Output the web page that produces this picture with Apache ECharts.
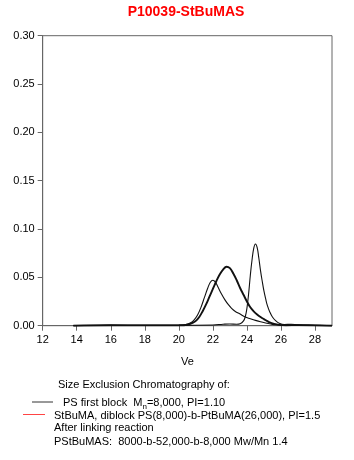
<!DOCTYPE html>
<html><head><meta charset="utf-8">
<script src="https://cdn.jsdelivr.net/npm/echarts@6/dist/echarts.min.js"></script>
<style>html,body{margin:0;padding:0;background:#fff}#c{width:354px;height:460px}</style>
</head><body><div id="c"></div>
<script>
var title = 'P10039-StBuMAS';
var xTicks = [12,14,16,18,20,22,24,26,28];
var yTicks = [0,0.05,0.10,0.15,0.20,0.25,0.30];

// PS first block (sharp peak ~24.5)
var psVe  = [13.8,16,18,20,22,22.6,23.0,23.4,23.6,23.8,23.9,24.0,24.1,24.2,24.3,24.4,24.5,24.6,24.7,24.8,24.9,25.0,25.1,25.2,25.35,25.5,25.7,25.9,26.2,26.6,27,28,29];
var psVal = [0,0.0005,0.0003,0.0003,0.0008,0.0015,0.0018,0.0015,0.002,0.005,0.009,0.018,0.033,0.052,0.068,0.080,0.0845,0.081,0.070,0.057,0.046,0.036,0.028,0.021,0.014,0.009,0.005,0.0025,0.0012,0.0015,0.001,0.0005,0];

// thin curve peak ~22.0
var thinVe  = [13.8,16,18,20,20.4,20.7,20.9,21.1,21.3,21.5,21.7,21.85,22.0,22.15,22.3,22.5,22.7,22.9,23.1,23.3,23.6,23.9,24.2,24.5,24.8,25.1,25.4,25.7,26,27,29];
var thinVal = [0,0.0003,0.0003,0.0005,0.0012,0.003,0.006,0.011,0.019,0.029,0.039,0.045,0.047,0.045,0.040,0.033,0.027,0.022,0.018,0.015,0.012,0.009,0.0072,0.0055,0.004,0.0028,0.0018,0.001,0.0006,0.0008,0];

// thick curve peak ~22.8
var thickVe  = [13.8,16,18,20,20.5,20.8,21.0,21.2,21.4,21.6,21.8,22.0,22.2,22.4,22.6,22.8,23.0,23.2,23.4,23.6,23.8,24.0,24.2,24.4,24.6,24.8,25.0,25.3,25.6,25.9,26.3,27,29];
var thickVal = [0,0.0004,0.0003,0.0004,0.001,0.003,0.005,0.009,0.015,0.022,0.030,0.038,0.046,0.053,0.058,0.061,0.0595,0.054,0.047,0.039,0.032,0.025,0.019,0.0148,0.0116,0.009,0.0068,0.0038,0.0018,0.0008,0.0005,0.0006,0];

function pairs(xs, ys){ return xs.map(function(x,i){ return [x, ys[i]]; }); }

var FONT = 'Liberation Sans, Arial, sans-serif';
var chart = echarts.init(document.getElementById('c'), null, {renderer:'canvas'});
chart.setOption({
  animation:false,
  backgroundColor:'#fff',
  title:{text:title, left:181, top:0, textAlign:'center',
    textStyle:{color:'#ff0000', fontSize:14, fontWeight:'bold', fontFamily:FONT}},
  grid:{left:42.7, right:22, top:35.7, bottom:134.3, show:true, borderColor:'#666', borderWidth:1},
  xAxis:{type:'value', min:12, max:29, name:'Ve', nameLocation:'middle', nameGap:31,
    nameTextStyle:{color:'#000', fontSize:11, fontFamily:FONT},
    axisLine:{lineStyle:{color:'#666'}},
    axisTick:{customValues:xTicks, length:5, lineStyle:{color:'#666'}},
    axisLabel:{customValues:xTicks, color:'#000', fontSize:11, fontFamily:FONT, margin:9},
    splitLine:{show:false}},
  yAxis:{type:'value', min:0, max:0.3, interval:0.05,
    axisLine:{show:true, lineStyle:{color:'#666'}},
    axisTick:{show:true, length:5, lineStyle:{color:'#666'}},
    axisLabel:{color:'#000', fontSize:11, fontFamily:FONT, margin:8,
      formatter:function(v){ return v.toFixed(2); }},
    splitLine:{show:false}},
  series:[
    {type:'line', data:pairs(psVe, psVal), smooth:0.4, showSymbol:false, lineStyle:{color:'#111', width:1.1}},
    {type:'line', data:pairs(thinVe, thinVal), smooth:0.4, showSymbol:false, lineStyle:{color:'#111', width:1.1}},
    {type:'line', data:pairs(thickVe, thickVal), smooth:0.4, showSymbol:false, lineStyle:{color:'#111', width:1.9}}
  ],
  graphic:[
    {type:'text', left:58, top:379, style:{text:'Size Exclusion Chromatography of:', fill:'#000', font:'11px '+FONT}},
    {type:'line', shape:{x1:32,y1:402,x2:53,y2:402}, style:{stroke:'#333', lineWidth:1}},
    {type:'text', left:63, top:397, style:{text:'{a|PS first block  M}{s|n}{a|=8,000, PI=1.10}', fill:'#000', font:'11px '+FONT,
      rich:{a:{fontSize:11, fontFamily:FONT, lineHeight:14, verticalAlign:'bottom'}, s:{fontSize:8, fontFamily:FONT, lineHeight:10, verticalAlign:'bottom', padding:[0,0,-3,0]}}}},
    {type:'line', shape:{x1:23,y1:414.5,x2:45,y2:414.5}, style:{stroke:'#ff4444', lineWidth:1}},
    {type:'text', left:54, top:410, style:{text:'StBuMA, diblock PS(8,000)-b-PtBuMA(26,000), PI=1.5', fill:'#000', font:'11px '+FONT}},
    {type:'text', left:54, top:422, style:{text:'After linking reaction', fill:'#000', font:'11px '+FONT}},
    {type:'text', left:54, top:436, style:{text:'PStBuMAS:  8000-b-52,000-b-8,000 Mw/Mn 1.4', fill:'#000', font:'11px '+FONT}}
  ]
});
</script></body></html>
